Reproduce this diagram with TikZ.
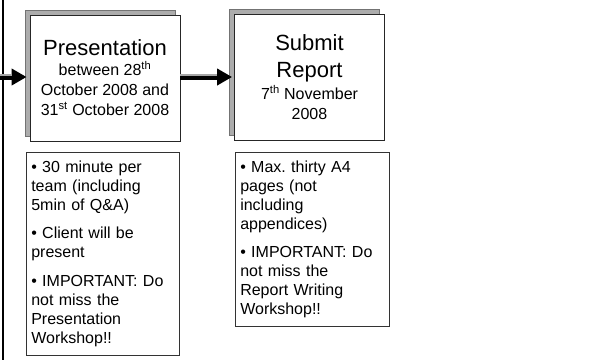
\documentclass[tikz,border=0pt]{standalone}
\usepackage{fontspec}
\setmainfont{Liberation Sans}
\usetikzlibrary{shadows,arrows.meta,positioning}

\tikzset{
  stagebox/.style={draw=black!85, line width=0.8pt, fill=white,
    minimum width=150pt, minimum height=126pt, inner sep=0pt, align=center,
    font=\fontsize{16}{20}\selectfont,
    general shadow={fill=gray!65, draw=black!55, shadow xshift=-5pt, shadow yshift=5pt}},
  notebox/.style={draw=black!80, line width=0.6pt, fill=white, anchor=north west,
    align=left, inner xsep=5pt, inner ysep=8.5pt,
    font=\fontsize{16}{19}\selectfont},
  flowarrow/.style={black, line width=6pt, -{Triangle[length=15pt,width=16pt]}},
  arrowshine/.style={gray!70, line width=2pt},
}
\newcommand{\stagetitle}{\fontsize{22}{26}\selectfont}

\begin{document}
\begin{tikzpicture}[x=1pt,y=-1pt]
\useasboundingbox (0,0) rectangle (590,360);

% time line
\draw[line width=1.6pt] (3,0) -- (3,360);

% stages
\node[stagebox] (present) at (105,78)
  {{\stagetitle Presentation}\\
   between 28\textsuperscript{th}\\
   October 2008 and\\
   31\textsuperscript{st} October 2008};
\node[stagebox] (submit) at (309.5,77)
  {{\stagetitle Submit}\\[7pt]
   {\stagetitle Report}\\[2pt]
   7\textsuperscript{th} November\\
   2008};

% notes
\node[notebox, text width=143pt, minimum height=203pt] (presnote) at (26,152)
  {• 30 minute per\\ team (including\\ 5min of Q\&A)\\[9.5pt]
   • Client will be\\ present\\[9.5pt]
   • IMPORTANT: Do\\ not miss the\\ Presentation\\ Workshop!!};
\node[notebox, text width=144pt, minimum height=173pt] (subnote) at (235,152)
  {• Max.\ thirty A4\\ pages (not\\ including\\ appendices)\\[9.5pt]
   • IMPORTANT: Do\\ not miss the\\ Report Writing\\ Workshop!!};

% arrows
\coordinate (start) at (0,77);
\draw[flowarrow, shorten >=3pt] (start) -- (present.west |- start);
\draw[arrowshine] ([yshift=2.5pt]start) -- ([xshift=-18pt,yshift=2.5pt]present.west |- start);
\draw[flowarrow, shorten >=2pt] (present.east |- start) -- (submit.west |- start);
\draw[arrowshine] ([yshift=2.5pt]present.east |- start) -- ([xshift=-17pt,yshift=2.5pt]submit.west |- start);
\end{tikzpicture}
\end{document}
